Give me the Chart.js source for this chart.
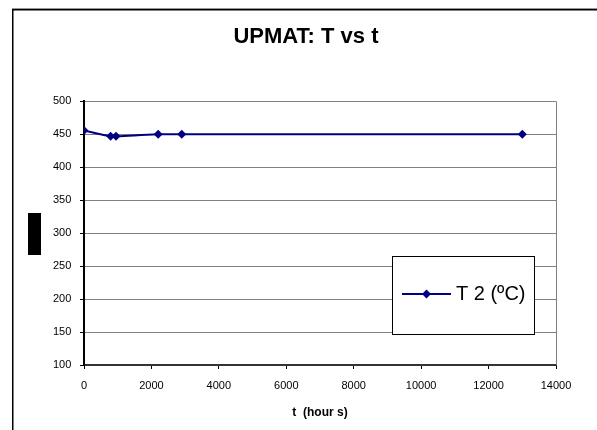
<!DOCTYPE html>
<html>
<head>
<meta charset="utf-8">
<script src="https://cdn.jsdelivr.net/npm/chart.js@4.4.1/dist/chart.umd.min.js"></script>
<style>
  html, body { margin: 0; padding: 0; background: #fff; }
  #wrap { position: relative; width: 597px; height: 430px; }
</style>
</head>
<body>
<div id="wrap"><canvas id="chart" width="597" height="430"></canvas></div>
<script>
// Series: temperature T2 against elapsed hours
const hours  = [0, 790, 950, 2200, 2900, 13000];
const tempT2 = [456, 447, 447, 450, 450, 450];

const seriesLabel = 'T 2 (ºC)';
const NAVY = '#000080';
const FONT = '"Liberation Sans", Arial, sans-serif';

// Sheet frame, plot border, y-title block and boxed legend
const decorations = {
  id: 'decorations',
  beforeDraw(chart) {
    const ctx = chart.ctx;
    ctx.save();
    ctx.fillStyle = '#fff';
    ctx.fillRect(0, 0, chart.width, chart.height);
    // frame
    ctx.fillStyle = '#999';
    ctx.fillRect(12, 8, chart.width - 12, 1);
    ctx.fillStyle = '#000';
    ctx.fillRect(12, 9, chart.width - 12, 1.5);
    ctx.fillRect(12, 9, 1.5, chart.height - 9);
    ctx.restore();
  },
  afterDatasetsDraw(chart) {
    const { ctx, chartArea: a } = chart;
    ctx.save();
    // right edge of the plot area
    ctx.strokeStyle = '#808080';
    ctx.lineWidth = 1;
    ctx.beginPath();
    ctx.moveTo(Math.round(a.right) + 0.5, a.top);
    ctx.lineTo(Math.round(a.right) + 0.5, a.bottom);
    ctx.stroke();

    // collapsed y-axis title
    ctx.fillStyle = '#000';
    ctx.fillRect(28, 213, 13, 42);

    // legend box
    const box = { x: 392.5, y: 256.5, w: 142, h: 78 };
    ctx.fillStyle = '#fff';
    ctx.fillRect(box.x, box.y, box.w, box.h);
    ctx.strokeStyle = '#000';
    ctx.strokeRect(box.x, box.y, box.w, box.h);

    const ly = 294;
    ctx.strokeStyle = NAVY;
    ctx.lineWidth = 2;
    ctx.beginPath();
    ctx.moveTo(402, ly);
    ctx.lineTo(451, ly);
    ctx.stroke();
    ctx.fillStyle = NAVY;
    ctx.beginPath();
    ctx.moveTo(426.5, ly - 4.5);
    ctx.lineTo(431, ly);
    ctx.lineTo(426.5, ly + 4.5);
    ctx.lineTo(422, ly);
    ctx.closePath();
    ctx.fill();

    ctx.fillStyle = '#000';
    ctx.font = '20px ' + FONT;
    ctx.textBaseline = 'middle';
    ctx.textAlign = 'left';
    ctx.fillText(chart.data.datasets[0].label, 456, ly);
    ctx.restore();
  }
};

new Chart(document.getElementById('chart'), {
  type: 'line',
  data: {
    datasets: [{
      label: seriesLabel,
      data: hours.map((h, i) => ({ x: h, y: tempT2[i] })),
      borderColor: NAVY,
      backgroundColor: NAVY,
      borderWidth: 2,
      pointStyle: 'rectRot',
      pointRadius: 4.5,
      pointBorderWidth: 0,
      tension: 0.4,
      fill: false,
    }],
  },
  options: {
    responsive: false,
    animation: false,
    layout: { padding: { left: 56, right: 41, top: 0, bottom: 0 } },
    plugins: {
      legend: { display: false },
      tooltip: { enabled: false },
      title: {
        display: true,
        text: 'UPMAT: T vs t',
        color: '#000',
        font: { family: FONT, size: 22, weight: 'bold' },
        padding: { top: 24, bottom: 51 },
      },
    },
    scales: {
      x: {
        type: 'linear',
        min: 0,
        max: 14000,
        afterFit: s => { s.height = 65; },
        ticks: {
          stepSize: 2000,
          color: '#000',
          padding: 10,
          font: { family: FONT, size: 11 },
          callback: v => String(v),
        },
        grid: { drawOnChartArea: false, drawTicks: true, tickLength: 4, tickColor: '#000' },
        border: { color: '#333', width: 2 },
        title: {
          display: true,
          text: 't  (hour s)',
          color: '#000',
          font: { family: FONT, size: 12, weight: 'bold' },
          padding: { top: 0, bottom: 10 },
        },
      },
      y: {
        min: 100,
        max: 500,
        afterFit: s => { s.width = 28; },
        ticks: {
          stepSize: 50,
          color: '#000',
          // labels sit left of the narrow axis box, so draw them unclipped
          mirror: true,
          crossAlign: 'far',
          padding: -31,
          font: { family: FONT, size: 11 },
          callback: v => String(v),
        },
        grid: { color: '#808080', lineWidth: 1, tickLength: 4, tickColor: '#000' },
        border: { color: '#000', width: 2 },
      },
    },
  },
  plugins: [decorations],
});
</script>
</body>
</html>
